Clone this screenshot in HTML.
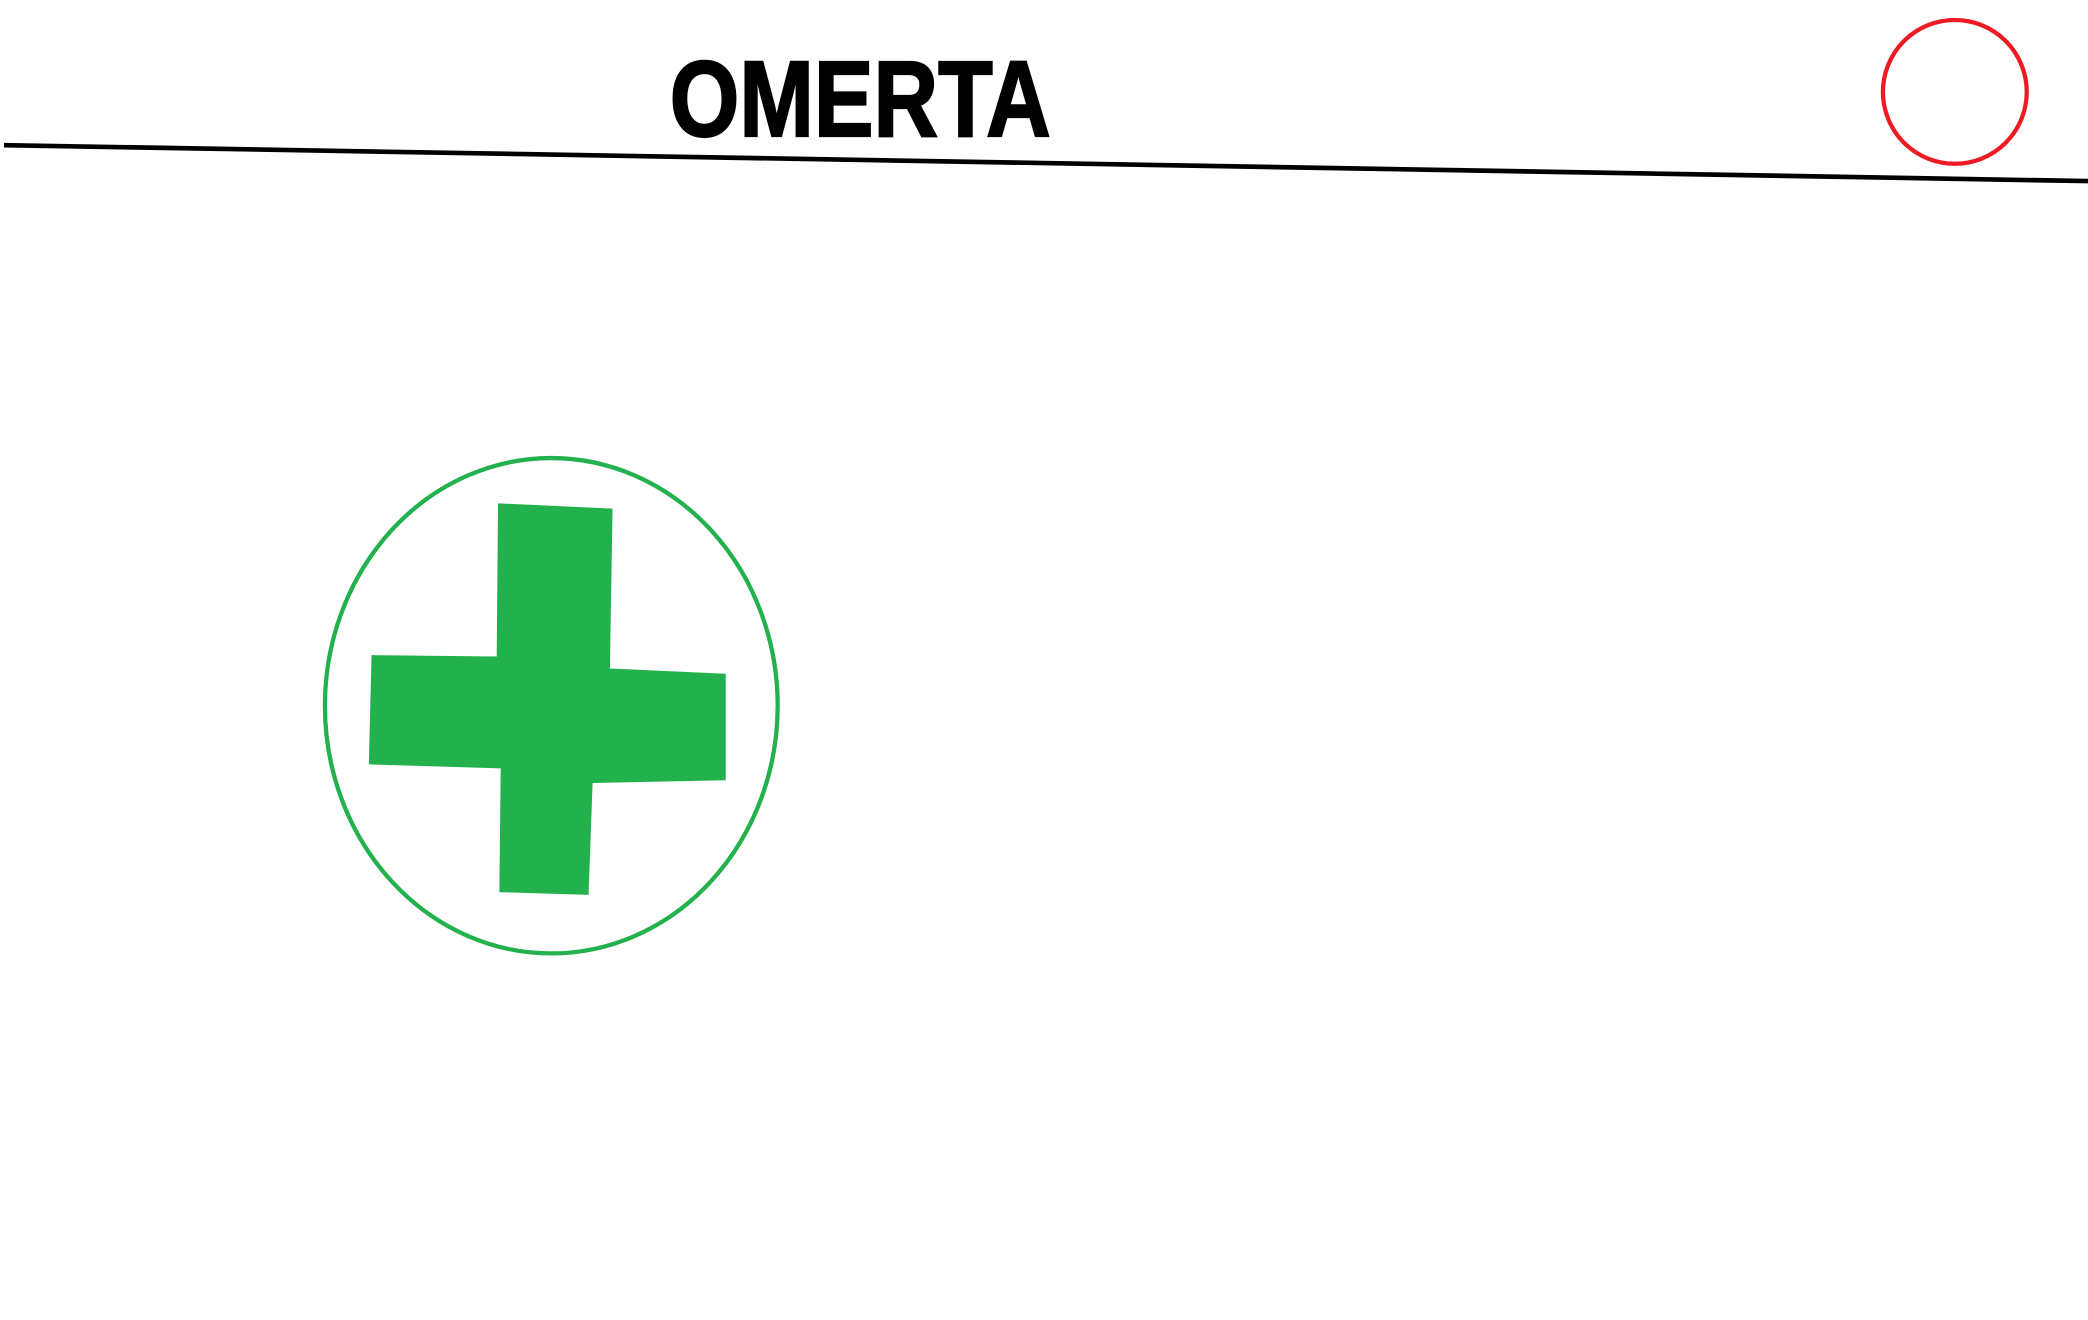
<!DOCTYPE html>
<html>
<head>
<meta charset="utf-8">
<style>
  html,body{margin:0;padding:0;background:#fff;}
  body{width:2088px;height:1320px;overflow:hidden;}
  svg{display:block;}
</style>
</head>
<body>
<svg width="2088" height="1320" viewBox="0 0 1568 991.3" preserveAspectRatio="none" xmlns="http://www.w3.org/2000/svg">
  <rect x="0" y="0" width="1568" height="991.3" fill="#ffffff"/>
  <text x="503" y="102" font-family="'Liberation Sans', sans-serif" font-weight="bold" font-size="81" textLength="286" lengthAdjust="spacingAndGlyphs" fill="#000" stroke="#000" stroke-width="1.6">OMERTA</text>
  <line x1="3" y1="109" x2="1568" y2="136" stroke="#000" stroke-width="3.5"/>
  <circle cx="1468" cy="69" r="54" fill="none" stroke="#ed1c24" stroke-width="3.2"/>
  <ellipse cx="414" cy="530" rx="170" ry="186" fill="none" stroke="#22b14c" stroke-width="3.2"/>
  <polygon points="374,378 460,382 458,502 545,506 545,586 445,588 442,672 375,670 376,577 277,574 279,492 373,493" fill="#22b14c"/>
</svg>
</body>
</html>
